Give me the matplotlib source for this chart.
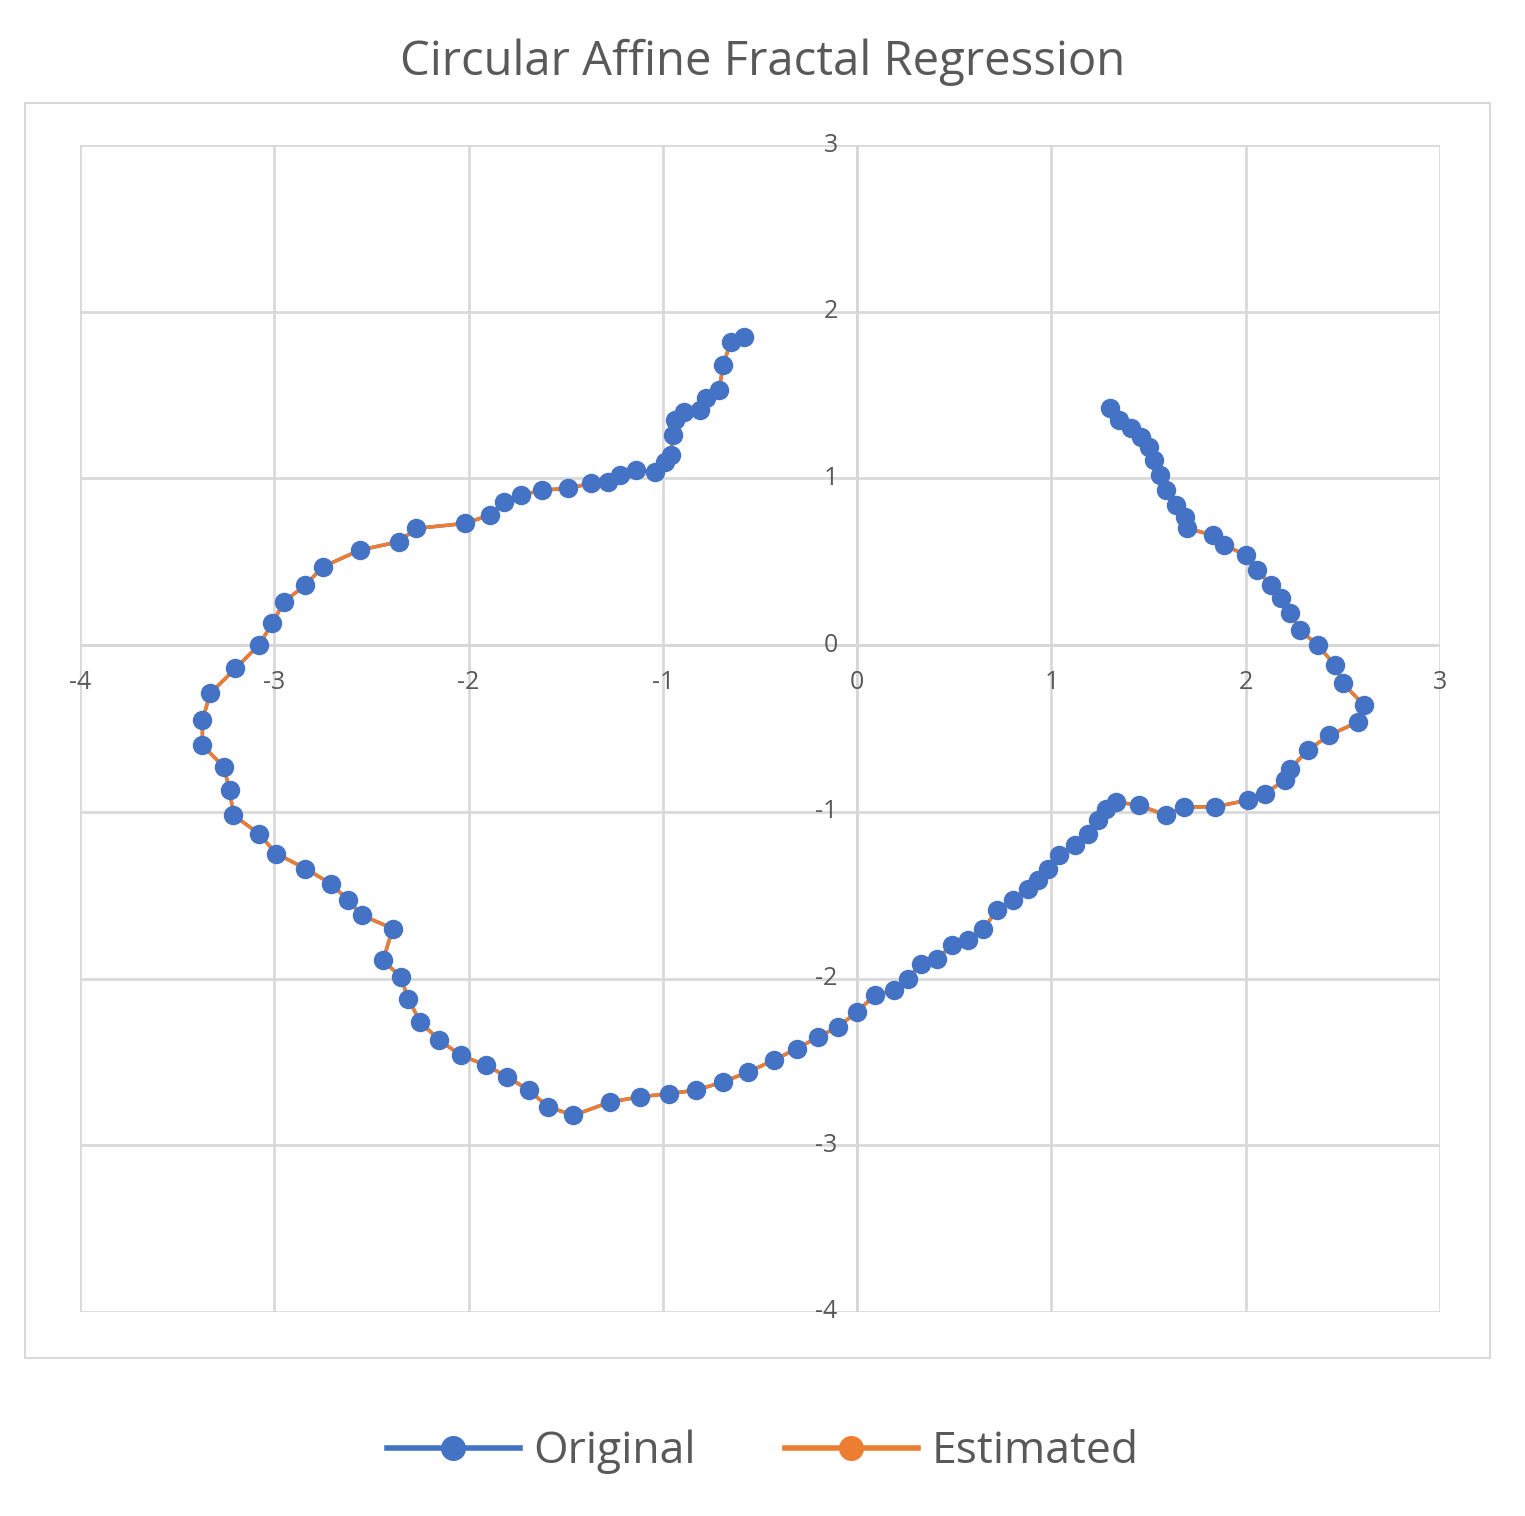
import matplotlib.pyplot as plt
from matplotlib.lines import Line2D
from matplotlib.patches import Rectangle

x_orig = [-0.58, -0.65, -0.69, -0.71, -0.78, -0.81, -0.89, -0.94, -0.95, -0.96, -0.99, -1.04,
          -1.14, -1.22, -1.28, -1.37, -1.49, -1.62, -1.73, -1.82, -1.89, -2.02, -2.27, -2.36,
          -2.56, -2.75, -2.84, -2.95, -3.01, -3.08, -3.20, -3.33, -3.37, -3.37, -3.26, -3.23,
          -3.21, -3.08, -2.99, -2.84, -2.71, -2.62, -2.55, -2.39, -2.44, -2.35, -2.31, -2.25,
          -2.15, -2.04, -1.91, -1.80, -1.69, -1.59, -1.46, -1.27, -1.12, -0.97, -0.83, -0.69,
          -0.56, -0.43, -0.31, -0.20, -0.10, 0.00, 0.09, 0.19, 0.26, 0.33, 0.41, 0.49, 0.57,
          0.65, 0.72, 0.80, 0.88, 0.93, 0.98, 1.04, 1.12, 1.19, 1.24, 1.28, 1.33, 1.45, 1.59,
          1.68, 1.84, 2.01, 2.10, 2.20, 2.23, 2.32, 2.43, 2.58, 2.61, 2.50, 2.46, 2.37, 2.28,
          2.23, 2.18, 2.13, 2.06, 2.00, 1.89, 1.83, 1.70, 1.69, 1.64, 1.59, 1.56, 1.53, 1.50,
          1.46, 1.41, 1.35, 1.30]
y_orig = [1.85, 1.82, 1.68, 1.53, 1.48, 1.41, 1.40, 1.35, 1.26, 1.14, 1.10, 1.04, 1.05, 1.02,
          0.98, 0.97, 0.94, 0.93, 0.90, 0.86, 0.78, 0.73, 0.70, 0.62, 0.57, 0.47, 0.36, 0.26,
          0.13, 0.00, -0.14, -0.29, -0.45, -0.60, -0.73, -0.87, -1.02, -1.13, -1.25, -1.34,
          -1.43, -1.53, -1.62, -1.70, -1.89, -1.99, -2.12, -2.26, -2.37, -2.46, -2.52, -2.59,
          -2.67, -2.77, -2.82, -2.74, -2.71, -2.69, -2.67, -2.62, -2.56, -2.49, -2.42, -2.35,
          -2.29, -2.20, -2.10, -2.07, -2.00, -1.91, -1.88, -1.80, -1.77, -1.70, -1.59, -1.53,
          -1.46, -1.41, -1.34, -1.26, -1.20, -1.13, -1.05, -0.98, -0.94, -0.96, -1.02, -0.97,
          -0.97, -0.93, -0.89, -0.81, -0.74, -0.63, -0.54, -0.46, -0.36, -0.23, -0.12, 0.00,
          0.09, 0.19, 0.28, 0.36, 0.45, 0.54, 0.60, 0.66, 0.70, 0.77, 0.84, 0.93, 1.02, 1.11,
          1.19, 1.25, 1.30, 1.35, 1.42]
# estimated curve follows the original almost exactly
x_est = list(x_orig)
y_est = list(y_orig)

x_ticks = [-4, -3, -2, -1, 0, 1, 2, 3]
y_ticks = [-4, -3, -2, -1, 0, 1, 2, 3]

blue = "#4472c4"
orange = "#ed7d31"
label_color = "#595959"
plt.rcParams["font.family"] = ["Open Sans", "DejaVu Sans"]

fig = plt.figure(figsize=(15.25, 15.16), dpi=100)
fig.patches.append(Rectangle((25 / 1525, 1 - 1358 / 1516), 1465 / 1525, 1255 / 1516,
                             transform=fig.transFigure, fill=False, ec="#d9d9d9", lw=1.5))
fig.text(0.5, 1 - 62 / 1516, "Circular Affine Fractal Regression", ha="center", va="center",
         fontsize=34, color=label_color)

ax = fig.add_axes([80 / 1525, 1 - 1312 / 1516, 1360 / 1525, 1167 / 1516])
ax.set_xlim(-4, 3)
ax.set_ylim(-4, 3)
ax.set_xticks(x_ticks)
ax.set_yticks(y_ticks)
ax.grid(True, color="#d9d9d9", lw=2)
ax.tick_params(length=0, labelbottom=False, labelleft=False)
for s in ax.spines.values():
    s.set_visible(False)
ax.axhline(0, color="#bfbfbf", lw=2, zorder=1.5)
ax.axvline(0, color="#bfbfbf", lw=2, zorder=1.5)
for t in x_ticks:
    ax.text(t, -0.15, str(t), ha="center", va="top", fontsize=18, color=label_color)
for t in y_ticks:
    ax.text(-0.1, t, str(t), ha="right", va="center", fontsize=18, color=label_color)

ax.plot(x_orig, y_orig, color=blue, lw=2.5, zorder=2)
ax.plot(x_est, y_est, color=orange, lw=2.5, zorder=3)
ax.plot(x_orig, y_orig, "o", color=blue, ms=13, zorder=4)

handles = [Line2D([], [], color=blue, lw=4, marker="o", ms=17),
           Line2D([], [], color=orange, lw=4, marker="o", ms=17)]
fig.legend(handles, ["Original", "Estimated"], loc="center", bbox_to_anchor=(0.5, 1 - 1452 / 1516),
           ncol=2, frameon=False, fontsize=32, labelcolor=label_color, handlelength=3,
           columnspacing=2, handletextpad=0.3)

fig.savefig("out.png")
